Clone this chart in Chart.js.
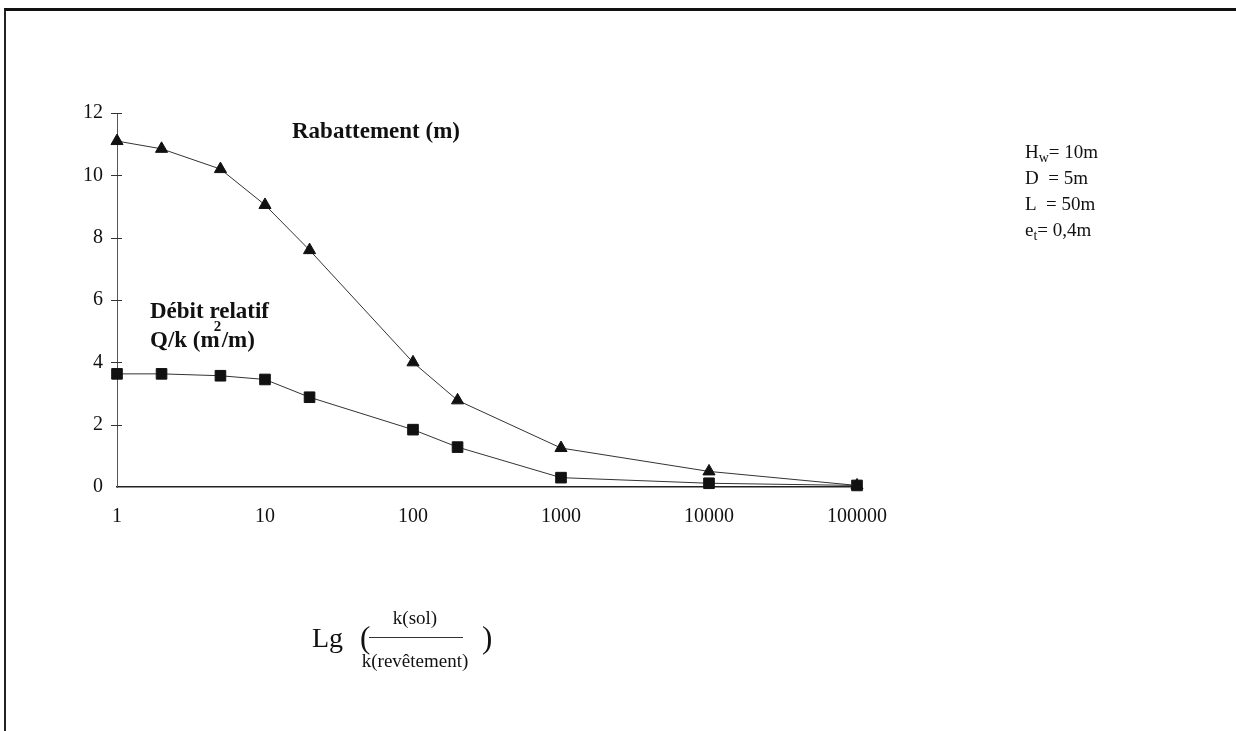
<!DOCTYPE html>
<html lang="fr">
<head>
<meta charset="utf-8">
<title>Rabattement et débit relatif</title>
<script src="https://cdn.jsdelivr.net/npm/chart.js@4/dist/chart.umd.min.js"></script>
<style>
  html, body { margin: 0; padding: 0; background: #fff; }
  #wrap { position: relative; width: 1236px; height: 731px; overflow: hidden; }
  #frame { position: absolute; left: 4px; top: 8px; right: -10px; bottom: -10px;
           border-top: 3px solid #111; border-left: 2px solid #222; }
  #chart { position: absolute; left: 0; top: 0; }
</style>
</head>
<body>
<div id="wrap">
  <div id="frame"></div>
  <canvas id="chart" width="1236" height="731"></canvas>
</div>
<script>
  // k(sol)/k(revêtement) ratios
  var ratios = [1, 2, 5, 10, 20, 100, 200, 1000, 10000, 100000];
  var rabattement = [11.1, 10.85, 10.2, 9.05, 7.6, 4.0, 2.78, 1.25, 0.5, 0.05];
  var debitRelatif = [3.63, 3.63, 3.57, 3.45, 2.88, 1.84, 1.28, 0.3, 0.12, 0.05];
  var xTicks = [1, 10, 100, 1000, 10000, 100000];
  var yTicks = [0, 2, 4, 6, 8, 10, 12];

  var SERIF = "'Liberation Serif', 'DejaVu Serif', serif";
  var INK = "#111";

  function points(ys) {
    return ratios.map(function (x, i) { return { x: x, y: ys[i] }; });
  }

  // Fixed plot box so the axes land where the scan has them.
  var PLOT = { left: 117, right: 857, top: 113, bottom: 487 };

  // Small crossing tick marks on the y axis plus the text annotations.
  var annotations = {
    id: "annotations",
    afterDraw: function (chart) {
      var ctx = chart.ctx;
      var y = chart.scales.y;
      var x0 = chart.chartArea.left;
      ctx.save();
      ctx.strokeStyle = "#333";
      ctx.lineWidth = 1;
      yTicks.forEach(function (v) {
        if (v === 0) return;
        var py = Math.round(y.getPixelForValue(v)) + 0.5;
        ctx.beginPath();
        ctx.moveTo(x0 - 6, py);
        ctx.lineTo(x0 + 5, py);
        ctx.stroke();
      });

      ctx.fillStyle = INK;
      ctx.textBaseline = "alphabetic";
      ctx.textAlign = "left";

      // series labels
      ctx.font = "bold 23px " + SERIF;
      ctx.fillText("Rabattement (m)", 292, 138);
      ctx.fillText("Débit relatif", 150, 318);
      ctx.fillText("Q/k (m", 150, 347);
      var w = ctx.measureText("Q/k (m").width;
      ctx.font = "bold 15px " + SERIF;
      ctx.fillText("2", 150 + w - 6, 331);
      ctx.font = "bold 23px " + SERIF;
      ctx.fillText("/m)", 150 + w + 2, 347);

      // parameters on the right
      var px = 1025;
      function param(main, sub, rest, by) {
        ctx.font = "19px " + SERIF;
        ctx.fillText(main, px, by);
        var mw = ctx.measureText(main).width;
        var sw = 0;
        if (sub) {
          ctx.font = "14px " + SERIF;
          ctx.fillText(sub, px + mw, by + 4);
          sw = ctx.measureText(sub).width;
          ctx.font = "19px " + SERIF;
        }
        ctx.fillText(rest, px + mw + sw, by);
      }
      param("H", "w", "= 10m", 158);
      param("D", "", "  = 5m", 184);
      param("L", "", "  = 50m", 210);
      param("e", "t", "= 0,4m", 236);

      // axis title: Lg ( k(sol) / k(revêtement) )
      ctx.font = "28px " + SERIF;
      ctx.fillText("Lg", 312, 647);
      ctx.font = "31px " + SERIF;
      ctx.fillText("(", 360, 648);
      ctx.fillText(")", 482, 648);
      ctx.font = "19px " + SERIF;
      ctx.textAlign = "center";
      ctx.fillText("k(sol)", 415, 624);
      ctx.fillText("k(revêtement)", 415, 667);
      ctx.beginPath();
      ctx.moveTo(369, 637.5);
      ctx.lineTo(463, 637.5);
      ctx.stroke();
      ctx.restore();
    },
  };

  new Chart(document.getElementById("chart"), {
    type: "line",
    data: {
      datasets: [
        {
          label: "Rabattement (m)",
          data: points(rabattement),
          borderColor: "#333",
          borderWidth: 1,
          backgroundColor: INK,
          pointStyle: "triangle",
          pointRadius: 7,
          pointBorderColor: INK,
          pointBackgroundColor: INK,
          tension: 0,
          clip: false,
        },
        {
          label: "Débit relatif Q/k (m²/m)",
          data: points(debitRelatif),
          borderColor: "#333",
          borderWidth: 1,
          backgroundColor: INK,
          pointStyle: "rect",
          pointRadius: 7.5,
          pointBorderColor: INK,
          pointBackgroundColor: INK,
          tension: 0,
          clip: false,
        },
      ],
    },
    options: {
      responsive: false,
      animation: false,
      layout: { padding: { left: 0, top: PLOT.top, right: 1236 - PLOT.right, bottom: 0 } },
      plugins: { legend: { display: false }, tooltip: { enabled: false } },
      scales: {
        x: {
          type: "logarithmic",
          min: 1,
          max: 100000,
          afterFit: function (s) { s.height = 731 - PLOT.bottom; },
          afterBuildTicks: function (s) {
            s.ticks = xTicks.map(function (v) { return { value: v }; });
          },
          grid: { display: false, drawTicks: false },
          border: { display: true, color: "#222", width: 1.5 },
          ticks: {
            color: INK,
            padding: 18,
            font: { family: SERIF, size: 20 },
            maxRotation: 0,
            autoSkip: false,
            callback: function (v) { return String(v); },
          },
        },
        y: {
          min: 0,
          max: 12,
          afterFit: function (s) { s.width = PLOT.left; },
          afterBuildTicks: function (s) {
            s.ticks = yTicks.map(function (v) { return { value: v }; });
          },
          grid: { display: false, drawTicks: false },
          border: { display: true, color: "#555", width: 1, dash: [7, 3] },
          ticks: {
            color: INK,
            padding: 14,
            font: { family: SERIF, size: 20 },
          },
        },
      },
    },
    plugins: [annotations],
  });
</script>
</body>
</html>
